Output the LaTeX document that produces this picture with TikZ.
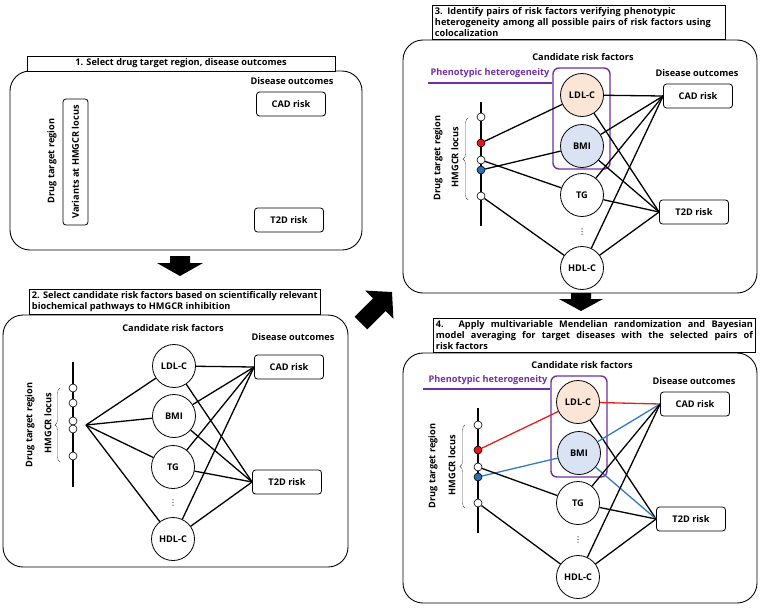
\documentclass[tikz,border=0pt]{standalone}
\usepackage{fontspec}
\setmainfont{Open Sans}
\newfontfamily\dejavu{DejaVu Sans}
\usetikzlibrary{decorations.pathreplacing}
\definecolor{purp}{HTML}{7030A0}
\definecolor{redl}{HTML}{E3201B}
\definecolor{bluel}{HTML}{2E7BBF}
\definecolor{peach}{HTML}{FBE5D6}
\definecolor{lblue}{HTML}{DAE3F3}
\definecolor{reddot}{HTML}{E8141B}
\definecolor{bluedot}{HTML}{2A6EB8}
\begin{document}
\begin{tikzpicture}[x=1pt,y=-1pt, font=\bfseries\fontsize{9.2}{11}\selectfont,
 panel/.style={draw, rounded corners=20pt, line width=0.9pt},
 titlebox/.style={draw, line width=0.9pt, fill=white},
 factor/.style={draw, circle, minimum size=43pt, inner sep=0pt, line width=0.8pt, fill=white},
 outcome/.style={draw, rounded corners=3pt, minimum width=69pt, minimum height=24pt, inner sep=0pt, line width=0.8pt, fill=white},
 snp/.style={draw, circle, minimum size=8pt, inner sep=0pt, line width=0.6pt, fill=white},
 link/.style={line width=1.3pt},
 locus/.style={line width=1.1pt},
 brc/.style={decorate, decoration={brace, amplitude=5pt}, line width=0.4pt, draw=black!70},
 bigarrow/.style={fill=black},
 phenbox/.style={draw=purp, rounded corners=6pt, line width=1.4pt, minimum width=57pt, minimum height=101pt, inner sep=0pt},
 phenline/.style={draw=purp, line width=1.4pt},
 vlabel/.style={rotate=90, inner sep=0pt},
 dotsn/.style={inner sep=0pt, font=\dejavu\fontsize{8}{8}\selectfont},
]
\useasboundingbox (0,0) rectangle (760,608);

% ---------------- Panel 1
\draw[panel] (10,71) rectangle (362,250);
\node[titlebox, minimum width=308pt, minimum height=15pt, inner sep=0pt] (t1) at (181,63.5) {1. Select drug target region, disease outcomes};
\node (do1) at (292,81) {Disease outcomes};
\node[outcome] (cad1) at (291,104) {CAD risk};
\node[outcome] (t2d1) at (289,220) {T2D risk};
\node[vlabel] (dtr1) at (52,161) {Drug target region};
\node[draw, rounded corners=3pt, rotate=90, minimum width=126pt, minimum height=25pt, inner sep=0pt, line width=0.8pt] (var1) at (75.5,162) {Variants at HMGCR locus};

% arrow 1 -> 2
\fill[bigarrow, shift={(180,276)}, rotate=-90] (0,0) -- (-13,-23) -- (-13,-10) -- (-20,-10) -- (-20,10) -- (-13,10) -- (-13,23) -- cycle;

% ---------------- Panel 2
\draw[panel] (3,315) rectangle (348,567);
\node[titlebox, anchor=south west, align=left, inner sep=2.5pt] (t2) at (29,315) {2. Select candidate risk factors based on scientifically relevant\\biochemical pathways to HMGCR inhibition};
\node (crf2) at (173,328) {Candidate risk factors};
\node (do2) at (293,337) {Disease outcomes};
\node[factor] (ldl2) at (174,366) {LDL-C};
\node[factor] (bmi2) at (174,416) {BMI};
\node[factor] (tg2) at (173,467) {TG};
\node[dotsn] (dots2) at (173,503) {⋮};
\node[factor] (hdl2) at (173,539) {HDL-C};
\node[outcome] (cad2) at (289,367) {CAD risk};
\node[outcome] (t2d2) at (287,482) {T2D risk};
\coordinate (top2) at (73,362);
\coordinate (bot2) at (73,487);
\draw[locus] (top2) -- (bot2);
\node[snp] (s2a) at (73,388) {};
\node[snp] (s2b) at (73,403) {};
\node[snp] (s2c) at (73,421) {};
\node[snp] (s2d) at (73,429) {};
\node[snp] (s2e) at (73,456) {};
\draw[brc] (60,462) -- (60,388);
\node[vlabel] (dtr2) at (30,425) {Drug target region};
\node[vlabel] (hl2) at (48,423) {HMGCR locus};
\coordinate (hub2) at (86,425);
\foreach \f in {ldl2,bmi2,tg2,hdl2}{
  \draw[link] (hub2) -- (\f);
  \draw[link] (\f) -- (cad2.west);
  \draw[link] (\f) -- (t2d2.west);
}

% diagonal arrow 2 -> 3
\fill[bigarrow, shift={(392,292)}, rotate=45] (0,0) -- (-18,-20) -- (-18,-9) -- (-44,-9) -- (-44,9) -- (-18,9) -- (-18,20) -- cycle;

% ---------------- Panel 3
\draw[panel] (403,40) rectangle (757,293);
\node[titlebox, anchor=south west, text width=288pt, align=left, inner sep=2.5pt] (t3) at (432,40) {\mbox{3. Identify pairs of risk factors verifying phenotypic}\\\mbox{heterogeneity among all possible pairs of risk factors using}\\colocalization};
\node (crf3) at (583,57) {Candidate risk factors};
\node[text=purp] (ph3) at (490,73) {Phenotypic heterogeneity};
\node[phenbox] (pb3) at (581.5,118.5) {};
\coordinate (pl3) at (428,83);
\draw[phenline] (pl3) -- (pl3 -| pb3.west);
\node[factor, fill=peach] (ldl3) at (582,95) {LDL-C};
\node[factor, fill=lblue] (bmi3) at (582,146) {BMI};
\node[factor] (tg3) at (582,195) {TG};
\node[dotsn] (dots3) at (582,232) {⋮};
\node[factor] (hdl3) at (582,268) {HDL-C};
\node (do3) at (697,73) {Disease outcomes};
\node[outcome] (cad3) at (698,96) {CAD risk};
\node[outcome] (t2d3) at (694,212) {T2D risk};
\coordinate (top3) at (481,102);
\coordinate (bot3) at (481,226);
\draw[locus] (top3) -- (bot3);
\node[snp] (s3a) at (481,117) {};
\node[snp, fill=reddot] (s3b) at (481,143) {};
\node[snp] (s3c) at (481,160) {};
\node[snp, fill=bluedot] (s3d) at (481,170) {};
\node[snp] (s3e) at (481,196) {};
\draw[brc] (468,200) -- (468,118);
\node[vlabel] (dtr3) at (438,158) {Drug target region};
\node[vlabel] (hl3) at (455,157) {HMGCR locus};
\draw[link] (s3b) -- (ldl3);
\draw[link] (s3c) -- (tg3);
\draw[link] (s3d) -- (bmi3);
\draw[link] (s3e) -- (hdl3);
\foreach \f in {ldl3,bmi3,tg3,hdl3}{
  \draw[link] (\f) -- (cad3.west);
  \draw[link] (\f) -- (t2d3.west);
}

% arrow 3 -> 4
\fill[bigarrow, shift={(581,311)}, rotate=-90] (0,0) -- (-12,-22) -- (-12,-10) -- (-18,-10) -- (-18,10) -- (-12,10) -- (-12,22) -- cycle;

% ---------------- Panel 4
\draw[panel] (403,353) rectangle (757,603);
\node[titlebox, anchor=south west, align=left, inner sep=2.5pt] (t4) at (433,353) {\makebox[317pt][s]{4. Apply multivariable Mendelian randomization and Bayesian}\\\makebox[317pt][s]{model averaging for target diseases with the selected pairs of}\\risk factors};
\node (crf4) at (582,365) {Candidate risk factors};
\node[text=purp] (ph4) at (488,380) {Phenotypic heterogeneity};
\node[phenbox, minimum width=56pt] (pb4) at (579,426.5) {};
\coordinate (pl4) at (423,389);
\draw[phenline] (pl4) -- (pl4 -| pb4.west);
\node[factor, fill=peach] (ldl4) at (578,402) {LDL-C};
\node[factor, fill=lblue] (bmi4) at (579,453) {BMI};
\node[factor] (tg4) at (578,503) {TG};
\node[dotsn] (dots4) at (578,540) {⋮};
\node[factor] (hdl4) at (578,577) {HDL-C};
\node (do4) at (694,381) {Disease outcomes};
\node[outcome] (cad4) at (695,404) {CAD risk};
\node[outcome] (t2d4) at (691,519) {T2D risk};
\coordinate (top4) at (478,408);
\coordinate (bot4) at (478,533);
\draw[locus] (top4) -- (bot4);
\node[snp] (s4a) at (478,425) {};
\node[snp, fill=reddot] (s4b) at (478,450) {};
\node[snp] (s4c) at (478,467) {};
\node[snp, fill=bluedot] (s4d) at (478,477) {};
\node[snp] (s4e) at (478,503) {};
\draw[brc] (465,508) -- (465,425);
\node[vlabel] (dtr4) at (433,466) {Drug target region};
\node[vlabel] (hl4) at (452,465) {HMGCR locus};
\draw[link, redl] (s4b) -- (ldl4);
\draw[link, redl] (ldl4) -- (cad4.west);
\draw[link] (ldl4) -- (t2d4.west);
\draw[link, bluel] (s4d) -- (bmi4);
\draw[link, bluel] (bmi4) -- (cad4.west);
\draw[link, bluel] (bmi4) -- (t2d4.west);
\draw[link] (s4c) -- (tg4);
\draw[link] (s4e) -- (hdl4);
\foreach \f in {tg4,hdl4}{
  \draw[link] (\f) -- (cad4.west);
  \draw[link] (\f) -- (t2d4.west);
}
\end{tikzpicture}
\end{document}
